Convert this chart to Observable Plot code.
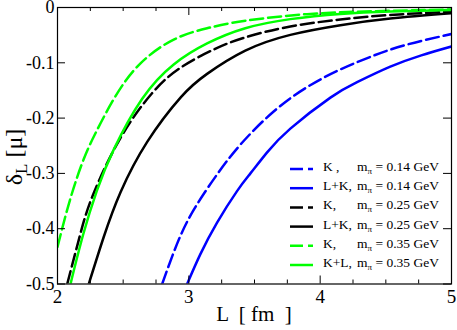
<!DOCTYPE html>
<html>
<head>
<meta charset="utf-8">
<script src="https://cdn.jsdelivr.net/npm/d3@7"></script>
<script src="https://cdn.jsdelivr.net/npm/@observablehq/plot@0.6"></script>
<style>
  html, body { margin: 0; padding: 0; background: white; }
  #chart { width: 457px; height: 330px; }
</style>
</head>
<body>
<div id="chart"></div>
<script>
// ---- data ----
const seriesPrefix = ["K ,", "L+K,", "K,", "L+K,", "K,", "K+L,"];
const seriesMass = ["0.14", "0.14", "0.25", "0.25", "0.35", "0.35"];
const seriesColor = ["#0000ff", "#0000ff", "#000000", "#000000", "#00ff00", "#00ff00"];
const seriesDashed = [true, false, true, false, true, false];

const L_K014  = [2.797, 2.911, 3.037, 3.215, 3.40, 3.646, 3.900, 4.154, 4.407, 4.661, 5.0];
const d_K014  = [-0.500, -0.427, -0.366, -0.302, -0.246, -0.188, -0.144, -0.112, -0.087, -0.067, -0.048];
const L_LK014 = [2.987, 3.088, 3.215, 3.367, 3.469, 3.596, 3.773, 4.078, 4.281, 4.534, 4.77, 5.0];
const d_LK014 = [-0.500, -0.446, -0.389, -0.332, -0.300, -0.262, -0.219, -0.163, -0.135, -0.107, -0.0865, -0.0705];
const L_K025  = [2.074, 2.17, 2.27, 2.479, 2.72, 2.936, 3.19, 3.43, 3.773, 4.154, 4.534, 5.0];
const d_K025  = [-0.500, -0.413, -0.339, -0.236, -0.155, -0.109, -0.076, -0.054, -0.0343, -0.0218, -0.0135, -0.0075];
const L_LK025 = [2.238, 2.352, 2.48, 2.683, 2.94, 3.139, 3.43, 3.773, 4.154, 4.534, 5.0];
const d_LK025 = [-0.500, -0.415, -0.334, -0.243, -0.162, -0.120, -0.078, -0.0495, -0.032, -0.020, -0.0105];
const L_K035  = [2.0, 2.1, 2.2, 2.29, 2.44, 2.632, 2.885, 3.139, 3.43, 3.9, 4.4, 5.0];
const d_K035  = [-0.433, -0.344, -0.274, -0.227, -0.161, -0.101, -0.058, -0.0375, -0.024, -0.0120, -0.0068, -0.0037];
const L_KL035 = [2.099, 2.195, 2.30, 2.428, 2.645, 2.885, 3.139, 3.43, 3.773, 4.154, 4.534, 5.0];
const d_KL035 = [-0.500, -0.411, -0.331, -0.257, -0.165, -0.103, -0.065, -0.0375, -0.021, -0.0116, -0.0071, -0.0046];

const seriesL = [L_K014, L_LK014, L_K025, L_LK025, L_K035, L_KL035];
const seriesD = [d_K014, d_LK014, d_K025, d_LK025, d_K035, d_KL035];

const xMajor = [2, 3, 4, 5];
const xMinor = [2.25, 2.5, 2.75, 3.25, 3.5, 3.75, 4.25, 4.5, 4.75];
const yMajor = [0, -0.1, -0.2, -0.3, -0.4, -0.5];

// ---- layout ----
const W = 457, H = 330;
const mL = 57, mR = 6, mT = 7, mB = 46.5;
const pW = W - mL - mR, pH = H - mT - mB;
const dash = "13,5";
const serif = "'Liberation Serif', 'Times New Roman', 'DejaVu Serif', serif";

const lineMarks = seriesL.map((Ls, i) =>
  Plot.line(Ls.map((L, j) => ({L, d: seriesD[i][j]})), {
    x: "L", y: "d",
    stroke: seriesColor[i],
    strokeWidth: 2.5,
    strokeDasharray: seriesDashed[i] ? dash : null,
    curve: "natural",
    clip: true
  })
);

const chart = Plot.plot({
  width: W, height: H,
  marginLeft: mL, marginRight: mR, marginTop: mT, marginBottom: mB,
  style: {background: "white", fontFamily: serif, fontSize: "18px", color: "black"},
  x: {domain: [2, 5], axis: null},
  y: {domain: [-0.5, 0], axis: null},
  marks: [
    ...lineMarks,
    Plot.frame({stroke: "black", strokeWidth: 1.2}),
    Plot.tickX(xMajor, {x: d => d, insetTop: pH - 8, stroke: "black"}),
    Plot.tickX(xMajor, {x: d => d, insetBottom: pH - 8, stroke: "black"}),
    Plot.tickX(xMinor, {x: d => d, insetTop: pH - 4, stroke: "black"}),
    Plot.tickX(xMinor, {x: d => d, insetBottom: pH - 4, stroke: "black"}),
    Plot.tickY(yMajor, {y: d => d, insetRight: pW - 8, stroke: "black"}),
    Plot.tickY(yMajor, {y: d => d, insetLeft: pW - 8, stroke: "black"}),
    Plot.axisX({ticks: xMajor, tickSize: 0, tickPadding: 5, tickFormat: d => String(d), label: null, fontSize: 19}),
    Plot.axisY({ticks: yMajor, tickSize: 0, tickPadding: 3, tickFormat: d => d === 0 ? "0" : String(d), label: null, fontSize: 18})
  ]
});
document.getElementById("chart").appendChild(chart);

const svg = d3.select(chart);
svg.attr("font-family", serif);

// axis titles
svg.append("text")
  .attr("x", 254).attr("y", 321)
  .attr("text-anchor", "middle")
  .style("font-size", "21px").style("white-space", "pre")
  .text("L  [ fm  ]");

const yl = svg.append("text")
  .attr("transform", "translate(22,157) rotate(-90)")
  .attr("text-anchor", "middle")
  .style("font-size", "24px");
yl.append("tspan").text("δ");
yl.append("tspan").attr("dy", 5).style("font-size", "17px").text("L");
yl.append("tspan").attr("dy", -5).text(" [μ]");

// legend
const leg = svg.append("g").attr("text-anchor", "start");
seriesPrefix.forEach((p, i) => {
  const y0 = 169 + i * 19.2;
  leg.append("line")
    .attr("x1", 290).attr("x2", 313).attr("y1", y0).attr("y2", y0)
    .attr("stroke", seriesColor[i]).attr("stroke-width", 2.5)
    .attr("stroke-dasharray", seriesDashed[i] ? dash : null);
  leg.append("text").attr("x", 323).attr("y", y0 + 2)
    .style("font-size", "13.5px").text(p);
  const t = leg.append("text").attr("x", 357).attr("y", y0 + 2).style("font-size", "13.5px");
  t.append("tspan").text("m");
  t.append("tspan").attr("dy", 3).style("font-size", "9px").text("π");
  t.append("tspan").attr("dy", -3).text(" = " + seriesMass[i] + " GeV");
});

svg.selectAll("text").style("font-family", serif);
</script>
</body>
</html>
